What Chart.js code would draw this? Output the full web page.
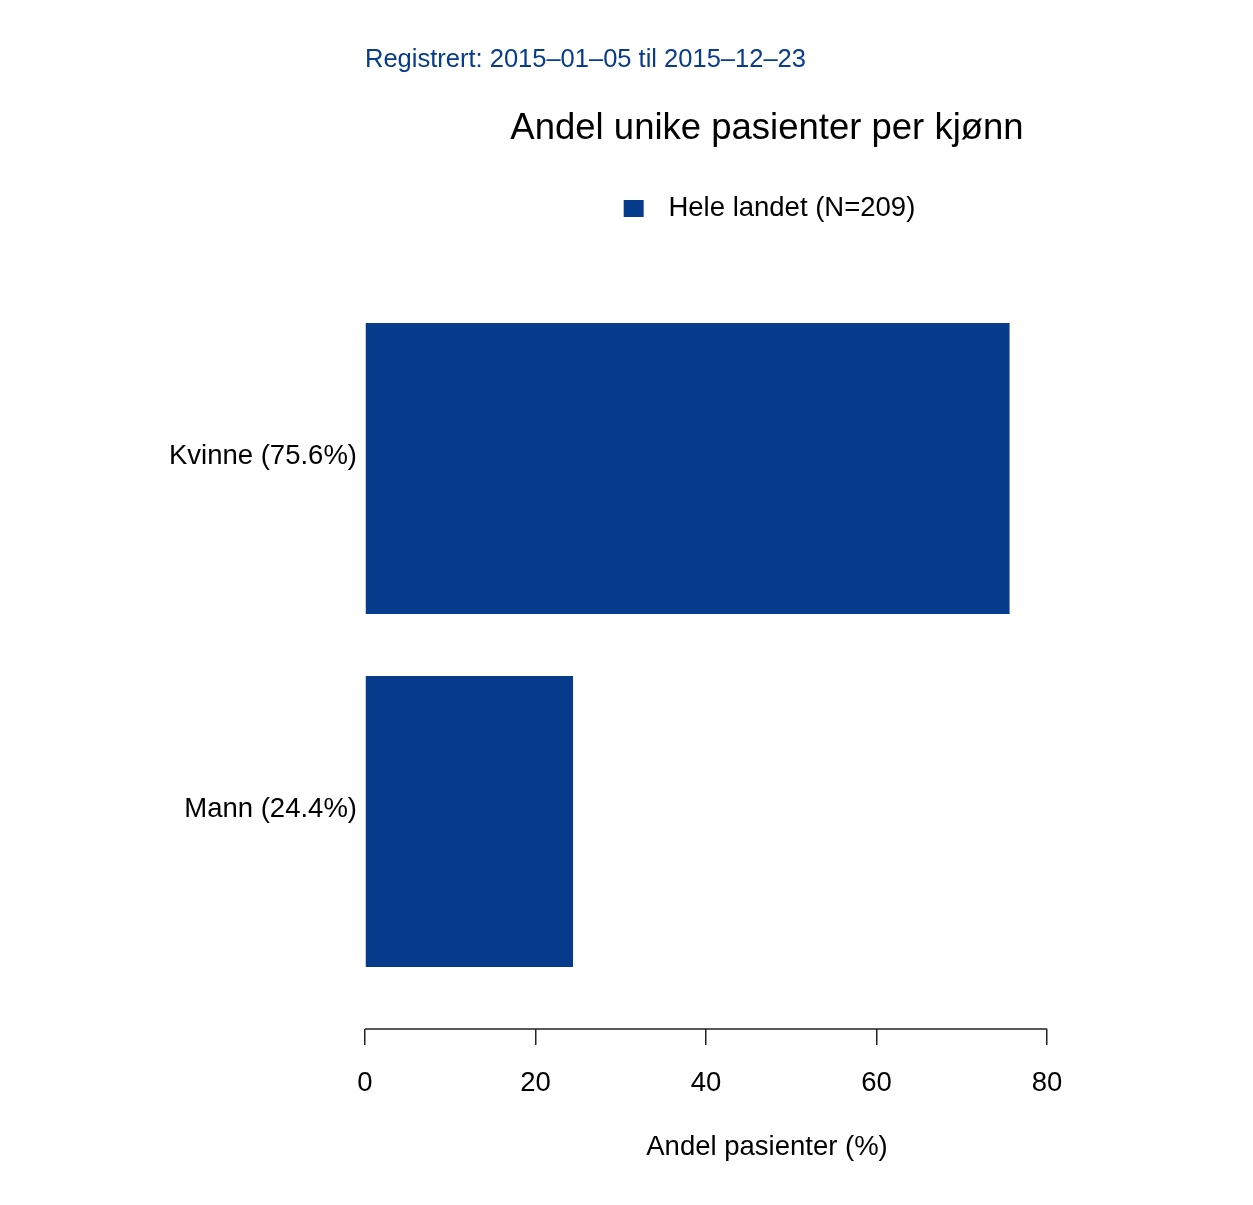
<!DOCTYPE html>
<html>
<head>
<meta charset="utf-8">
<script src="https://cdn.jsdelivr.net/npm/chart.js"></script>
<style>
  body { margin: 0; background: #fff; }
  canvas { display: block; }
</style>
</head>
<body>
<canvas id="kjonnChart" width="1253" height="1205"></canvas>
<script>
// data
const categories = ['Kvinne', 'Mann'];
const shares = [75.6, 24.4];
const seriesLabel = 'Hele landet (N=209)';
const xTickValues = [0, 20, 40, 60, 80];
const xAxisMax = 94.3;

const fontFamily = '"Liberation Sans", Arial, Helvetica, sans-serif';
const barColor = '#073b8c';

// y labels like "Kvinne (75.6%)"
const yLabels = categories.map((c, i) => c + ' (' + shares[i].toFixed(1) + '%)');

// legend marker: small square with some room after it (R legend spacing)
const legendMarker = document.createElement('canvas');
legendMarker.width = 36;
legendMarker.height = 17;
const mctx = legendMarker.getContext('2d');
mctx.fillStyle = barColor;
mctx.fillRect(5, 0, 20, 17);

// R style axis line that only runs between first and last tick
const axisLine = {
    id: 'axisLine',
    afterDraw(chart) {
        const xs = chart.scales.x;
        const ctx = chart.ctx;
        const y = chart.chartArea.bottom;
        ctx.save();
        ctx.strokeStyle = '#222';
        ctx.lineWidth = 1.5;
        ctx.beginPath();
        ctx.moveTo(xs.getPixelForValue(xTickValues[0]), y);
        ctx.lineTo(xs.getPixelForValue(xTickValues[xTickValues.length - 1]), y);
        ctx.stroke();
        ctx.restore();
    }
};

const ctx = document.getElementById('kjonnChart').getContext('2d');

new Chart(ctx, {
    type: 'bar',
    data: {
        datasets: [{
            label: seriesLabel,
            data: shares.map((v, i) => ({ x: v, y: i })),
            backgroundColor: barColor,
            borderWidth: 0,
            categoryPercentage: 1,
            barPercentage: 0.824
        }]
    },
    options: {
        indexAxis: 'y',
        responsive: false,
        animation: false,
        layout: {
            padding: { left: 0, right: 84, top: 0, bottom: 0 }
        },
        plugins: {
            title: {
                display: true,
                text: 'Registrert: 2015\u201301\u201305 til 2015\u201312\u201323',
                align: 'start',
                fullSize: false,
                color: barColor,
                font: { family: fontFamily, size: 25.5, weight: 'normal' },
                padding: { top: 44.7, bottom: 0 }
            },
            subtitle: {
                display: true,
                text: 'Andel unike pasienter per kjønn',
                align: 'center',
                fullSize: false,
                color: '#000',
                font: { family: fontFamily, size: 36.5, weight: 'normal' },
                padding: { top: 31.8, bottom: 34 }
            },
            legend: {
                display: true,
                position: 'top',
                fullSize: false,
                labels: {
                    usePointStyle: true,
                    pointStyle: legendMarker,
                    pointStyleWidth: 36,
                    boxHeight: 17,
                    color: '#000',
                    padding: 10,
                    font: { family: fontFamily, size: 27.5 }
                }
            },
            tooltip: { enabled: false }
        },
        scales: {
            y: {
                type: 'linear',
                reverse: true,
                offset: false,
                min: -0.6688,
                max: 1.5878,
                afterBuildTicks: scale => {
                    scale.ticks = categories.map((c, i) => ({ value: i }));
                },
                afterFit: scale => {
                    scale.width = 365;
                },
                ticks: {
                    callback: value => yLabels[value],
                    color: '#000',
                    padding: 0,
                    labelOffset: -12,
                    font: { family: fontFamily, size: 27.5 }
                },
                grid: { display: false },
                border: { display: false }
            },
            x: {
                type: 'linear',
                min: 0,
                max: xAxisMax,
                afterBuildTicks: scale => {
                    scale.ticks = xTickValues.map(v => ({ value: v }));
                },
                ticks: {
                    color: '#000',
                    padding: 22,
                    font: { family: fontFamily, size: 27.5 }
                },
                grid: {
                    drawOnChartArea: false,
                    drawTicks: true,
                    tickLength: 16,
                    color: '#222',
                    lineWidth: 1.5
                },
                border: { display: false },
                title: {
                    display: true,
                    text: 'Andel pasienter (%)',
                    color: '#000',
                    font: { family: fontFamily, size: 27.5 },
                    padding: { top: 8.5, bottom: 41.5 }
                }
            }
        }
    },
    plugins: [axisLine]
});
</script>
</body>
</html>
